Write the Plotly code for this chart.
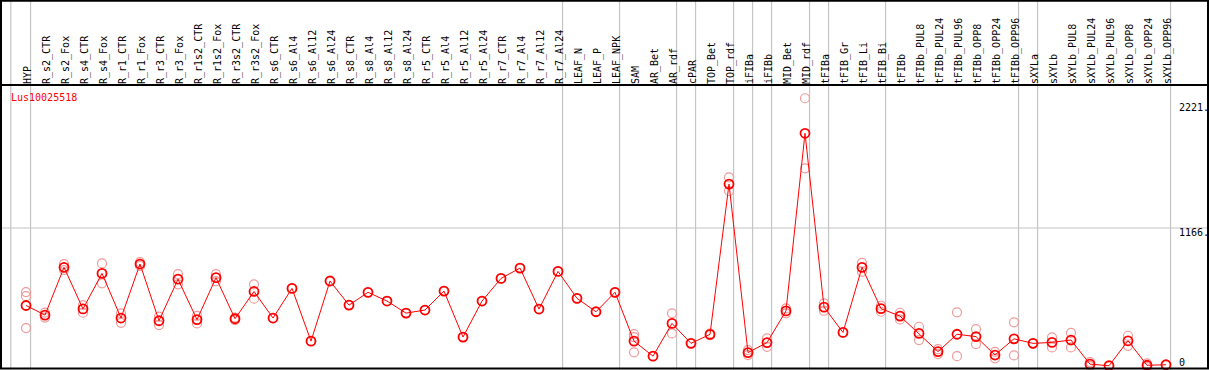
import plotly.graph_objects as go

categories = ["HYP", "R_s2_CTR", "R_s2_Fox", "R_s4_CTR", "R_s4_Fox", "R_r1_CTR", "R_r1_Fox",
              "R_r3_CTR", "R_r3_Fox", "R_r1s2_CTR", "R_r1s2_Fox", "R_r3s2_CTR", "R_r3s2_Fox",
              "R_s6_CTR", "R_s6_Al4", "R_s6_Al12", "R_s6_Al24", "R_s8_CTR", "R_s8_Al4",
              "R_s8_Al12", "R_s8_Al24", "R_r5_CTR", "R_r5_Al4", "R_r5_Al12", "R_r5_Al24",
              "R_r7_CTR", "R_r7_Al4", "R_r7_Al12", "R_r7_Al24", "LEAF_N", "LEAF_P", "LEAF_NPK",
              "SAM", "AR_Bet", "AR_rdf", "cPAR", "TOP_Bet", "TOP_rdf", "iFIBa", "iFIBb",
              "MID_Bet", "MID_rdf", "tFIBa", "tFIB_Gr", "tFIB_Li", "tFIB_Bi", "tFIBb",
              "tFIBb_PUL8", "tFIBb_PUL24", "tFIBb_PUL96", "tFIBb_OPP8", "tFIBb_OPP24",
              "tFIBb_OPP96", "sXYLa", "sXYLb", "sXYLb_PUL8", "sXYLb_PUL24", "sXYLb_PUL96",
              "sXYLb_OPP8", "sXYLb_OPP24", "sXYLb_OPP96"]

mean_values = [536, 458, 846, 508, 797, 434, 873, 412, 750, 421, 762, 428, 650,
               434, 675, 246, 735, 539, 643, 572, 474, 499, 653, 279, 572,
               756, 840, 507, 813, 594, 485, 643,
               246, 124, 390, 228, 301, 1523, 153, 234,
               492, 1936, 523, 317, 846, 510, 450,
               309, 161, 302, 283, 133, 265, 228, 236, 255, 59, 46,
               249, 50, 54]

replicates = [[645, 612, 352], [478, 438], [873, 824], [539, 477], [878, 716], [472, 395],
              [889, 857], [446, 377], [791, 708], [452, 390], [791, 734], [438, 417],
              [708, 591], [434], [675], [246], [735], [539], [643], [572], [474], [499],
              [653], [279], [572], [756], [840], [507], [813], [594], [485], [643],
              [303, 279, 155], [124], [472, 309], [228], [295, 307], [1578, 1467],
              [173, 133], [268, 200], [512, 472], [2221, 1651], [553, 493], [317],
              [883, 810], [534, 485], [477, 423], [363, 255], [181, 141], [480, 124],
              [344, 222], [159, 106], [399, 130], [228], [277, 195], [314, 195],
              [76, 43], [46], [290, 208], [65, 35], [54]]

group_ends = [0, 28, 31, 34, 35, 37, 38, 39, 41, 42, 45, 52, 53, 60]
gene_name = "Lus10025518"
y_tick_values = [2221, 1166, 0]
y_tick_labels = ["2221.", "1166.", "0"]

W, H = 1209, 370
TOP = 85
x_idx = list(range(len(categories)))

rep_x, rep_y = [], []
for i, reps in enumerate(replicates):
    for v in reps:
        rep_x.append(i)
        rep_y.append(v)

fig = go.Figure()
fig.add_trace(go.Scatter(x=rep_x, y=rep_y, mode="markers",
                         marker=dict(symbol="circle-open", size=9, color="#ef9a9a",
                                     line=dict(width=1.2, color="#ef9090")),
                         hoverinfo="skip", showlegend=False))
fig.add_trace(go.Scatter(x=x_idx, y=mean_values, mode="lines+markers",
                         line=dict(color="#ff0000", width=1),
                         marker=dict(symbol="circle-open", size=9, color="#ff0000",
                                     line=dict(width=1.8, color="#ff0000")),
                         showlegend=False))


def py(px):
    return (H - px) / (H - TOP)


shapes = []
for g in [-0.8] + [e + 0.24 for e in group_ends]:
    shapes.append(dict(type="line", xref="x", yref="paper", x0=g, x1=g, y0=0, y1=py(0),
                       line=dict(color="#c4c4c4", width=1.2), layer="below"))
shapes.append(dict(type="line", xref="paper", yref="y", x0=0, x1=1, y0=y_tick_values[1],
                   y1=y_tick_values[1], line=dict(color="#c4c4c4", width=1.2), layer="below"))
shapes.append(dict(type="line", xref="paper", yref="paper", x0=0, x1=1, y0=py(85), y1=py(85),
                   line=dict(color="black", width=2)))
shapes.append(dict(type="rect", xref="paper", yref="paper", x0=1 / W, x1=1208 / W,
                   y0=py(368.5), y1=py(0.8), line=dict(color="black", width=2)))

annotations = [dict(text=gene_name, xref="paper", yref="paper", x=9 / W, y=py(97),
                    xanchor="left", yanchor="middle", showarrow=False,
                    font=dict(family="DejaVu Sans Mono", size=10, color="#ff0000"))]
for lbl, ypx in zip(y_tick_labels, [107, 232, 362]):
    annotations.append(dict(text=lbl, xref="paper", yref="paper", x=1177 / W, y=py(ypx),
                            xanchor="left", yanchor="middle", showarrow=False,
                            font=dict(family="DejaVu Sans Mono", size=10, color="black")))

px_per_unit = (228 - 98.25) / (2221 - 1166)
y0_px = 228 + 1166 * px_per_unit
y_lo = (y0_px - H) / px_per_unit
y_hi = (y0_px - TOP) / px_per_unit
x_lo = (0 - 26) / 19
x_hi = (W - 26) / 19

fig.update_layout(
    width=W, height=H, margin=dict(l=0, r=0, t=TOP, b=0),
    paper_bgcolor="white", plot_bgcolor="white",
    xaxis=dict(range=[x_lo, x_hi], side="top", tickmode="array", tickvals=x_idx,
               ticktext=categories, tickangle=-90, showgrid=False, zeroline=False,
               showline=False, ticks="", ticklabelstandoff=0, ticklabelshift=2,
               tickfont=dict(family="DejaVu Sans Mono", size=10, color="black")),
    yaxis=dict(range=[y_lo, y_hi], showgrid=False, zeroline=False, showticklabels=False,
               showline=False, ticks=""),
    shapes=shapes, annotations=annotations,
)

fig.write_html("out.html", config={"displayModeBar": False},
               post_script="document.body.style.margin='0';document.body.style.overflow='hidden';")
